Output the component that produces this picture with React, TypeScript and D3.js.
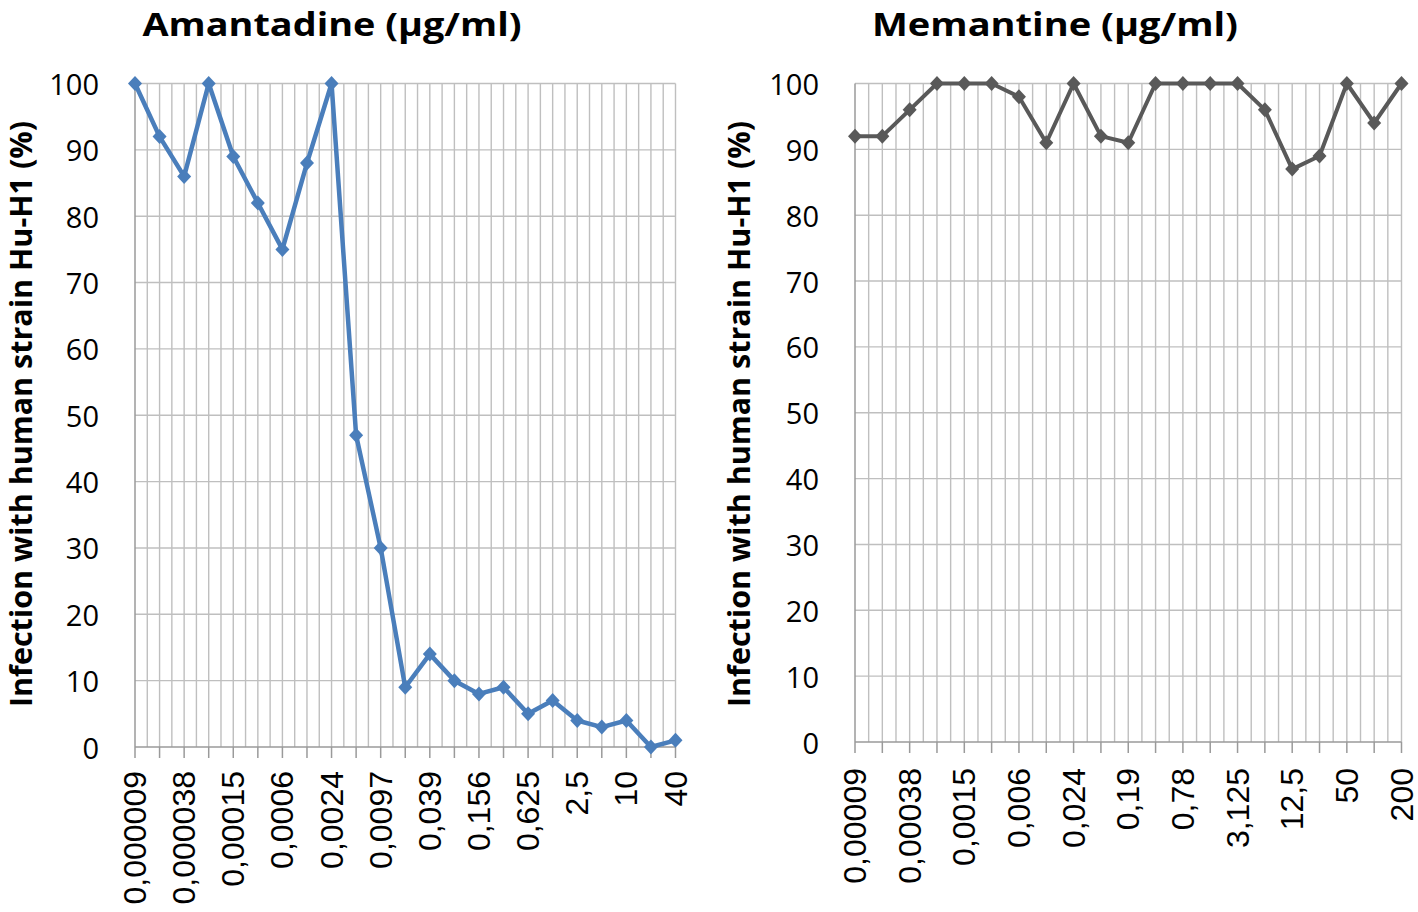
import React from "react";
import * as d3 from "d3";

const amaCategories = [
  "0,000009", "0,000019", "0,000038", "0,000076", "0,00015", "0,0003", "0,0006", "0,0012",
  "0,0024", "0,0048", "0,0097", "0,019", "0,039", "0,078", "0,156", "0,3125", "0,625",
  "1,25", "2,5", "5", "10", "20", "40",
];
const amaValues = [100, 92, 86, 100, 89, 82, 75, 88, 100, 47, 30, 9, 14, 10, 8, 9, 5, 7, 4, 3, 4, 0, 1];

const memCategories = [
  "0,00009", "0,00018", "0,00038", "0,00076", "0,0015", "0,003", "0,006", "0,012", "0,024",
  "0,095", "0,19", "0,39", "0,78", "1,56", "3,125", "6,25", "12,5", "25", "50", "100", "200",
];
const memValues = [92, 92, 96, 100, 100, 100, 98, 91, 100, 92, 91, 100, 100, 100, 100, 96, 87, 89, 100, 94, 100];

const yTicks = [0, 10, 20, 30, 40, 50, 60, 70, 80, 90, 100];

const yTitle = "Infection with human strain Hu-H1 (%)";

type ChartProps = {
  title: string;
  titleWidth: number;
  categories: string[];
  values: number[];
  color: string;
  lineWidth: number;
  x0: number;
  x1: number;
  yTop: number;
  yBottom: number;
  titleX: number;
  yTitleX: number;
  yLabelX: number;
  labelTop: number;
};

function Chart(p: ChartProps) {
  const n = p.categories.length;
  const x = d3.scaleLinear().domain([0, n - 1]).range([p.x0, p.x1]);
  const y = d3.scaleLinear().domain([0, 100]).range([p.yBottom, p.yTop]);
  const line = d3
    .line<number>()
    .x((_, i) => x(i))
    .y((d) => y(d));
  const halfSteps = d3.range(0, (n - 1) * 2 + 1).map((k) => k / 2);
  const grid = "#BFBFBF";
  return (
    <g>
      <text
        x={p.titleX}
        y={36}
        textAnchor="middle"
        fontFamily="'Open Sans', sans-serif"
        fontWeight="bold"
        fontSize={33}
        textLength={p.titleWidth}
        lengthAdjust="spacingAndGlyphs"
        fill="#000"
      >
        {p.title}
      </text>
      <text
        transform={`translate(${p.yTitleX},414) rotate(-90)`}
        textAnchor="middle"
        dominantBaseline="central"
        fontFamily="'Open Sans', sans-serif"
        fontWeight="bold"
        fontSize={30.5}
        fill="#000"
      >
        {yTitle}
      </text>
      {halfSteps.slice(1).map((k) => (
        <line key={"v" + k} x1={x(k)} x2={x(k)} y1={y(100)} y2={y(0)} stroke={grid} strokeWidth={1.4} />
      ))}
      {yTicks.slice(1).map((t) => (
        <line key={"h" + t} x1={p.x0} x2={p.x1} y1={y(t)} y2={y(t)} stroke={grid} strokeWidth={1.4} />
      ))}
      <line x1={p.x0} x2={p.x0} y1={y(100)} y2={y(0)} stroke="#9A9A9A" strokeWidth={1.5} />
      <line x1={p.x0} x2={p.x1} y1={y(0)} y2={y(0)} stroke="#9A9A9A" strokeWidth={1.5} />
      {p.categories.map((c, i) => (
        <line key={"t" + i} x1={x(i)} x2={x(i)} y1={y(0)} y2={y(0) + 11} stroke="#9A9A9A" strokeWidth={1.5} />
      ))}
      {yTicks.map((t) => (
        <text
          key={"yl" + t}
          x={p.yLabelX}
          y={y(t)}
          textAnchor="end"
          dominantBaseline="central"
          fontFamily="'Open Sans', sans-serif"
          fontSize={29}
          fill="#000"
        >
          {t}
        </text>
      ))}
      {p.categories.map((c, i) =>
        i % 2 === 0 ? (
          <text
            key={"xl" + i}
            transform={`translate(${x(i)},${p.labelTop}) rotate(-90)`}
            textAnchor="end"
            dominantBaseline="central"
            fontFamily="'Liberation Sans', Arial, sans-serif"
            fontSize={32}
            fill="#000"
          >
            {c}
          </text>
        ) : null
      )}
      <path d={line(p.values) || ""} fill="none" stroke={p.color} strokeWidth={p.lineWidth} strokeLinejoin="round" />
      {p.values.map((v, i) => {
        const cx = x(i);
        const cy = y(v);
        const w = 7;
        const h = 7.5;
        return (
          <path
            key={"m" + i}
            d={`M${cx},${cy - h}L${cx + w},${cy}L${cx},${cy + h}L${cx - w},${cy}Z`}
            fill={p.color}
          />
        );
      })}
    </g>
  );
}

export default function App() {
  return (
    <svg width={1418} height={912} style={{ position: "absolute", left: 0, top: 0, background: "#fff" }}>
      <rect width={1418} height={912} fill="#fff" />
      <Chart
        title="Amantadine (µg/ml)"
        titleWidth={379}
        categories={amaCategories}
        values={amaValues}
        color="#4A7EBB"
        lineWidth={4.5}
        x0={135}
        x1={675.5}
        yTop={83.5}
        yBottom={747}
        titleX={332}
        yTitleX={20}
        yLabelX={99}
        labelTop={771}
      />
      <Chart
        title="Memantine (µg/ml)"
        titleWidth={366}
        categories={memCategories}
        values={memValues}
        color="#595959"
        lineWidth={4}
        x0={855}
        x1={1401.5}
        yTop={83.5}
        yBottom={742}
        titleX={1055}
        yTitleX={738}
        yLabelX={819}
        labelTop={768}
      />
    </svg>
  );
}
